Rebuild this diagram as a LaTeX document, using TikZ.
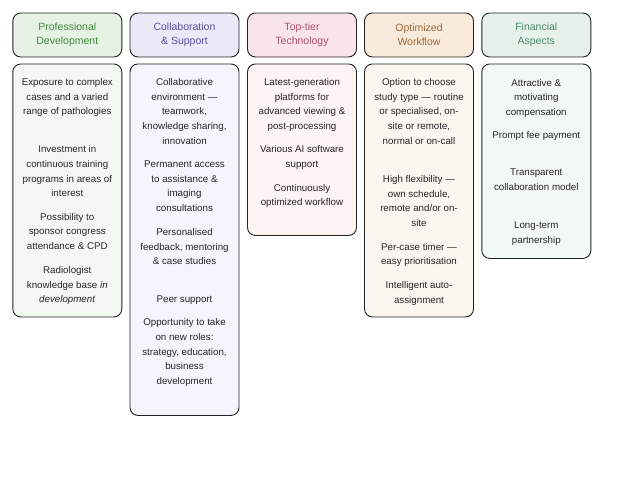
\documentclass[tikz,border=0pt]{standalone}
\usepackage{fontspec}
\setmainfont{Liberation Sans}
\definecolor{hfA}{HTML}{E6F2E3}\definecolor{htA}{HTML}{3F8A3F}\definecolor{bfA}{HTML}{F3F9F2}
\definecolor{hfB}{HTML}{ECE9F8}\definecolor{htB}{HTML}{5B4EA0}\definecolor{bfB}{HTML}{F6F5FD}
\definecolor{hfC}{HTML}{F9E4EA}\definecolor{htC}{HTML}{B0506A}\definecolor{bfC}{HTML}{FDF4F3}
\definecolor{hfD}{HTML}{FAEADB}\definecolor{htD}{HTML}{A0683A}\definecolor{bfD}{HTML}{FCF6F0}
\definecolor{hfE}{HTML}{E6F1EA}\definecolor{htE}{HTML}{4A8A68}\definecolor{bfE}{HTML}{F2F8F4}
\definecolor{edge}{HTML}{222222}
\tikzset{
  hdrbox/.style={draw=edge, line width=0.9pt, rounded corners=8pt, minimum width=109pt, minimum height=44pt, align=center, inner sep=0pt, font=\fontsize{10.5pt}{14.4pt}\selectfont},
  bodybox/.style={draw=edge, line width=0.9pt, rounded corners=8pt, minimum width=109pt, anchor=north, inner sep=0pt},
  item/.style={anchor=north, align=center, inner sep=0pt, text=black!85, font=\fontsize{9.75pt}{14.7pt}\selectfont}
}
\begin{document}
\begin{tikzpicture}[x=1pt,y=-1pt]
\useasboundingbox (0,0) rectangle (627,485);
\fill[white] (0,0) rectangle (627,485);
% headers
\node[hdrbox, fill=hfA, text=htA] (h1) at (67.3,35) {Professional\\Development};
\node[hdrbox, fill=hfB, text=htB] (h2) at (184.5,35) {Collaboration\\\& Support};
\node[hdrbox, fill=hfC, text=htC] (h3) at (302,35) {Top-tier\\Technology};
\node[hdrbox, fill=hfD, text=htD] (h4) at (419,35) {Optimized\\Workflow};
\node[hdrbox, fill=hfE, text=htE] (h5) at (536.3,35) {Financial\\Aspects};
% bodies
\node[bodybox, fill=bfA, minimum height=253pt] (b1) at (67.3,63.5) {};
\node[bodybox, fill=bfB, minimum height=351.5pt] (b2) at (184.5,63.5) {};
\node[bodybox, fill=bfC, minimum height=171.5pt] (b3) at (302,63.5) {};
\node[bodybox, fill=bfD, minimum height=253pt] (b4) at (419,63.5) {};
\node[bodybox, fill=bfE, minimum height=194.5pt] (b5) at (536.3,63.5) {};
% column 1
\node[item] (a1) at (67.3,75) {\strut Exposure to complex\\cases and a varied\\range of pathologies};
\node[item] (a2) at (67.3,142.3) {\strut Investment in\\continuous training\\programs in areas of\\interest};
\node[item] (a3) at (67.3,209.7) {\strut Possibility to\\sponsor congress\\attendance \& CPD};
\node[item] (a4) at (67.3,263) {\strut Radiologist\\knowledge base \textit{in}\\\textit{development}};
% column 2
\node[item] (c1) at (184.5,75) {\strut Collaborative\\environment ---\\teamwork,\\knowledge sharing,\\innovation};
\node[item] (c2) at (184.5,157) {\strut Permanent access\\to assistance \&\\imaging\\consultations};
\node[item] (c3) at (184.5,225) {\strut Personalised\\feedback, mentoring\\\& case studies};
\node[item] (c4) at (184.5,292) {\strut Peer support};
\node[item] (c5) at (184.5,315.3) {\strut Opportunity to take\\on new roles:\\strategy, education,\\business\\development};
% column 3
\node[item] (t1) at (302,75) {\strut Latest-generation\\platforms for\\advanced viewing \&\\post-processing};
\node[item] (t2) at (302,142.3) {\strut Various AI software\\support};
\node[item] (t3) at (302,180.7) {\strut Continuously\\optimized workflow};
% column 4
\node[item] (w1) at (419,75) {\strut Option to choose\\study type --- routine\\or specialised, on-\\site or remote,\\normal or on-call};
\node[item] (w2) at (419,172) {\strut High flexibility ---\\own schedule,\\remote and/or on-\\site};
\node[item] (w3) at (419,239.7) {\strut Per-case timer ---\\easy prioritisation};
\node[item] (w4) at (419,278) {\strut Intelligent auto-\\assignment};
% column 5
\node[item] (f1) at (536.3,75.7) {\strut Attractive \&\\motivating\\compensation};
\node[item] (f2) at (536.3,128) {\strut Prompt fee payment};
\node[item] (f3) at (536.3,165.3) {\strut Transparent\\collaboration model};
\node[item] (f4) at (536.3,218) {\strut Long-term\\partnership};
\end{tikzpicture}
\end{document}
